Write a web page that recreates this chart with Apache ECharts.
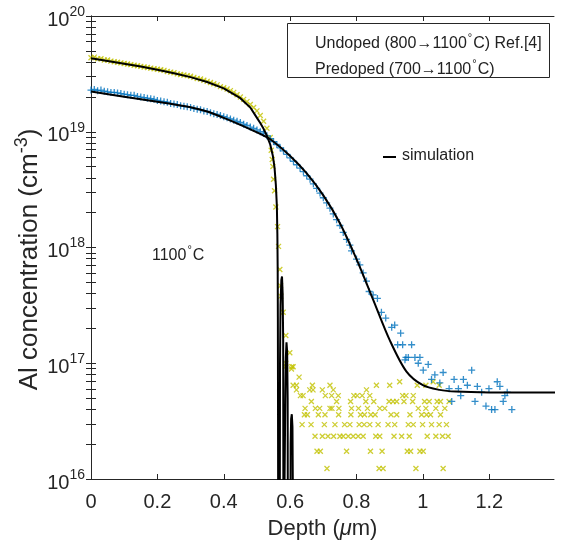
<!DOCTYPE html>
<html><head><meta charset="utf-8">
<script src="https://cdn.jsdelivr.net/npm/echarts@6/dist/echarts.min.js"></script>
<style>html,body{margin:0;padding:0;background:#fff}#c{width:562px;height:542px}</style>
</head><body><div id="c"></div>
<script>
// ---- tick labels ----
const xTickValues = [0, 0.2, 0.4, 0.6, 0.8, 1, 1.2];
const yDecadeExps = [16, 17, 18, 19, 20];

// ---- Undoped (800->1100 C) Ref.[4] data: depth (um), log10 concentration ----
const undopedDepth = [
 0.00,0.01,0.02,0.03,0.04,0.05,0.06,0.07,0.08,0.09,0.10,0.11,0.12,0.13,0.14,0.15,0.16,0.17,0.18,0.19,
 0.20,0.21,0.22,0.23,0.24,0.25,0.26,0.27,0.28,0.29,0.30,0.31,0.32,0.33,0.34,0.35,0.36,0.37,0.38,0.39,
 0.40,0.41,0.42,0.43,0.44,0.45,0.46,0.47,0.48,0.49,0.50,0.51,0.52,0.53,0.54,
 0.543,0.546,0.548,0.550,0.553,0.557,0.562,0.565,0.569,0.571,0.572,0.579,0.587,0.599,0.609,0.587,0.604,0.627,0.586,0.605,
 0.609,0.619,0.667,0.720,0.860,0.900,0.983,1.009,1.049,
 0.930,1.031,
 0.619,0.659,0.669,0.697,0.730,0.830,
 0.631,0.639,0.706,0.725,0.745,0.792,0.802,0.817,0.840,0.939,0.949,0.971,
 0.664,0.740,0.782,0.828,0.852,0.898,0.910,0.921,0.943,0.969,1.005,1.019,1.043,1.053,1.079,
 0.645,0.676,0.689,0.720,0.726,0.747,0.785,0.806,0.833,0.870,0.885,0.986,1.009,1.039,1.066,
 0.643,0.652,0.685,0.705,0.746,0.783,0.812,0.824,0.843,0.856,0.904,0.921,0.961,0.996,1.011,1.023,1.053,
 0.636,0.663,0.703,0.735,0.764,0.780,0.808,0.823,0.840,0.865,0.895,0.915,0.956,0.971,0.999,1.026,1.049,1.071,
 0.675,0.697,0.714,0.731,0.750,0.760,0.775,0.790,0.805,0.820,0.858,0.870,0.913,0.936,0.959,1.013,1.039,1.059,1.076,
 0.681,0.691,0.770,0.842,0.877,0.953,0.963,0.991,1.001,
 0.711,0.868,0.880,0.979,1.061
];
const undopedLogConc = [
 19.64,19.645,19.63,19.63,19.62,19.62,19.61,19.605,19.60,19.595,19.59,19.585,19.58,19.575,19.57,19.565,19.56,19.555,19.55,19.545,
 19.54,19.535,19.53,19.52,19.515,19.51,19.50,19.495,19.49,19.485,19.48,19.47,19.46,19.455,19.445,19.435,19.425,19.415,19.405,19.39,
 19.38,19.37,19.355,19.34,19.32,19.30,19.28,19.26,19.235,19.21,19.18,19.14,19.09,19.03,18.95,
 18.84,18.76,18.70,18.59,18.49,18.35,18.18,18.01,17.81,17.67,17.58,17.44,17.24,17.09,16.97,17.00,16.95,16.88,16.97,16.97,
 16.81,16.81,16.81,16.81,16.81,16.81,16.81,16.81,16.81,
 16.84,16.84,
 16.77,16.77,16.77,16.77,16.77,16.77,
 16.72,16.72,16.72,16.72,16.72,16.72,16.72,16.72,16.72,16.72,16.72,16.72,
 16.67,16.67,16.67,16.67,16.67,16.67,16.67,16.67,16.67,16.67,16.67,16.67,16.67,16.67,16.67,
 16.61,16.61,16.61,16.61,16.61,16.61,16.61,16.61,16.61,16.61,16.61,16.61,16.61,16.61,16.61,
 16.555,16.555,16.555,16.555,16.555,16.555,16.555,16.555,16.555,16.555,16.555,16.555,16.555,16.555,16.555,16.555,16.555,
 16.47,16.47,16.47,16.47,16.47,16.47,16.47,16.47,16.47,16.47,16.47,16.47,16.47,16.47,16.47,16.47,16.47,16.47,
 16.37,16.37,16.37,16.37,16.37,16.37,16.37,16.37,16.37,16.37,16.37,16.37,16.37,16.37,16.37,16.37,16.37,16.37,16.37,
 16.24,16.24,16.24,16.24,16.24,16.24,16.24,16.24,16.24,
 16.09,16.09,16.09,16.09,16.09
];

// ---- Predoped (700->1100 C) data ----
const predopedDepth = [
 0.00,0.01,0.02,0.03,0.04,0.05,0.06,0.07,0.08,0.09,0.10,0.11,0.12,0.13,0.14,0.15,0.16,0.17,0.18,0.19,
 0.20,0.21,0.22,0.23,0.24,0.25,0.26,0.27,0.28,0.29,0.30,0.31,0.32,0.33,0.34,0.35,0.36,0.37,0.38,0.39,
 0.40,0.41,0.42,0.43,0.44,0.45,0.46,0.47,0.48,0.49,0.50,0.51,0.52,0.53,0.54,0.55,0.56,0.57,0.58,0.59,
 0.60,0.61,0.62,0.63,0.64,0.65,0.66,0.67,0.68,0.69,0.70,0.71,0.72,0.73,0.74,0.75,0.76,0.77,0.78,0.785,
 0.80,0.81,0.82,0.83,
 0.838,0.850,0.863,0.875,0.888,0.906,0.915,0.933,0.924,0.939,0.966,0.956,0.949,0.976,0.991,0.946,0.986,1.016,1.001,1.036,
 1.026,1.061,1.051,1.094,1.122,1.147,1.134,1.079,1.107,1.114,1.087,1.164,1.177,1.157,1.199,1.224,1.232,1.254,1.247,1.190,
 1.207,1.217,1.242,1.268
];
const predopedLogConc = [
 19.36,19.365,19.355,19.36,19.35,19.345,19.34,19.34,19.335,19.33,19.325,19.32,19.315,19.315,19.305,19.30,19.295,19.29,19.285,19.28,
 19.27,19.265,19.26,19.255,19.245,19.24,19.235,19.225,19.22,19.215,19.21,19.20,19.195,19.19,19.18,19.175,19.165,19.155,19.15,19.14,
 19.13,19.12,19.11,19.10,19.09,19.08,19.065,19.055,19.04,19.03,19.015,19.00,18.985,18.965,18.94,18.915,18.89,18.86,18.835,18.805,
 18.775,18.745,18.715,18.685,18.655,18.62,18.59,18.55,18.51,18.47,18.43,18.385,18.34,18.29,18.24,18.19,18.13,18.07,18.02,17.97,
 17.90,17.85,17.78,17.71,
 17.62,17.59,17.56,17.44,17.39,17.31,17.33,17.26,17.16,17.16,17.16,17.05,17.05,17.05,17.05,17.03,17.00,16.99,16.94,16.90,
 16.86,16.92,16.83,16.86,16.86,16.94,16.81,16.78,16.78,16.72,16.67,16.80,16.75,16.67,16.78,16.84,16.80,16.75,16.72,16.63,
 16.60,16.60,16.67,16.60
];

// ---- simulation curves ----
const simUndopedDepth = [
 0,0.05,0.1,0.15,0.2,0.25,0.3,0.35,0.4,0.45,0.48,0.5,0.51,0.52,0.53,0.54,0.548,0.553,0.557,0.56,0.5615,0.5625,0.563,0.5635,0.564,
 0.5685,0.5695,0.571,0.5735,0.5755,0.5775,0.579,0.580,
 0.5845,0.5855,0.587,0.589,0.591,0.5925,0.5935,
 0.6005,0.6015,0.603,0.605,0.607,0.608,0.609
];
const simUndopedLogConc = [
 19.635,19.612,19.588,19.563,19.536,19.505,19.472,19.43,19.375,19.29,19.21,19.12,19.075,19.025,18.965,18.89,18.79,18.69,18.54,18.36,18.12,17.8,17.4,16.6,15.5,
 15,17.0,17.5,17.72,17.75,17.6,17.2,15,
 15,16.7,17.05,17.18,17.1,16.7,15,
 15,16.3,16.52,16.56,16.45,16.0,15
];
const simPredopedDepth = [0,0.1,0.2,0.3,0.35,0.4,0.45,0.5,0.54,0.6,0.65,0.7,0.75,0.8,0.85,0.9,0.95,1.0,1.05,1.1,1.2,1.4];
const simPredopedLogConc = [19.347,19.302,19.26,19.212,19.175,19.12,19.06,18.995,18.935,18.79,18.64,18.45,18.21,17.9,17.55,17.2,16.93,16.81,16.77,16.755,16.748,16.747];

// ---- helpers ----
const toPairs = (xs, es) => xs.map((x, i) => [x, Math.pow(10, es[i])]);
const minorTicks = [];
for (let e = 16; e < 20; e++) for (let m = 1; m <= 10; m++) minorTicks.push(m * Math.pow(10, e));

const FONT = '"Liberation Sans", Arial, Helvetica, sans-serif';
const AX = '#262626';
const TXT = '#262626';
const YEL = '#c2c200';
const BLU = '#0072BD';

const chart = echarts.init(document.getElementById('c'), null, {renderer: 'canvas'});

const xCommon = {type: 'value', min: 0, max: 1.395,
  axisLine: {show: true, lineStyle: {color: AX, width: 1}}, splitLine: {show: false}};
const yCommon = {type: 'log', logBase: 10, min: 1e16, max: 1e20,
  axisLine: {show: true, lineStyle: {color: AX, width: 1}}, splitLine: {show: false}, minorSplitLine: {show: false}};

const option = {
  animation: false,
  backgroundColor: '#fff',
  grid: {left: 91, right: 8, top: 16, bottom: 63, containLabel: false, outerBoundsMode: 'none'},
  xAxis: [
    Object.assign({}, xCommon, {position: 'bottom',
      axisTick: {show: true, inside: true, length: 5, customValues: xTickValues, lineStyle: {color: AX}},
      axisLabel: {show: true, customValues: xTickValues, margin: 13, color: TXT, fontFamily: FONT, fontSize: 20,
        formatter: v => String(Math.round(v * 10) / 10)},
      name: 'Depth ({i|μ}m)', nameLocation: 'middle', nameGap: 39, nameMoveOverlap: false,
      nameTextStyle: {color: TXT, fontFamily: FONT, fontSize: 22,
        rich: {i: {fontStyle: 'italic', fontFamily: FONT, fontSize: 22, color: TXT}}}}),
    Object.assign({}, xCommon, {position: 'top',
      axisTick: {show: true, inside: true, length: 5, customValues: xTickValues, lineStyle: {color: AX}},
      axisLabel: {show: false}})
  ],
  yAxis: [
    Object.assign({}, yCommon, {position: 'left',
      axisTick: {show: true, inside: true, length: 5, customValues: minorTicks, lineStyle: {color: AX}},
      axisLabel: {show: true, margin: 6, color: TXT, fontFamily: FONT,
        formatter: v => '{b|10}{s|' + Math.round(Math.log10(v)) + '}',
        rich: {
          b: {fontFamily: FONT, fontSize: 20, color: TXT, lineHeight: 20, padding: [8, 0, 0, 0]},
          s: {fontFamily: FONT, fontSize: 14, color: TXT, lineHeight: 14, padding: [0, 0, 8, 0]}
        }},
      name: 'Al concentration (cm{s|-3})', nameLocation: 'middle', nameGap: 44, nameRotate: 90, nameMoveOverlap: false,
      nameTextStyle: {color: TXT, fontFamily: FONT, fontSize: 26, lineHeight: 34, padding: [0, 24, 0, 0],
        rich: {s: {fontFamily: FONT, fontSize: 18, color: TXT, lineHeight: 34, verticalAlign: 'top'}}}}),
    Object.assign({}, yCommon, {position: 'right',
      axisTick: {show: true, inside: true, length: 5, customValues: minorTicks, lineStyle: {color: AX}},
      axisLabel: {show: false}})
  ],
  series: [
    {type: 'scatter', name: 'Undoped', xAxisIndex: 0, yAxisIndex: 0,
      data: toPairs(undopedDepth, undopedLogConc),
      symbol: 'path://M0,0L10,10M10,0L0,10', symbolSize: 5,
      itemStyle: {color: 'rgba(0,0,0,0)', borderColor: YEL, borderWidth: 1.3}, z: 2},
    {type: 'scatter', name: 'Predoped', xAxisIndex: 0, yAxisIndex: 0,
      data: toPairs(predopedDepth, predopedLogConc),
      symbol: 'path://M5,0L5,10M0,5L10,5', symbolSize: 7,
      itemStyle: {color: 'rgba(0,0,0,0)', borderColor: BLU, borderWidth: 1.3}, z: 2},
    {type: 'line', name: 'sim undoped', xAxisIndex: 0, yAxisIndex: 0,
      data: toPairs(simUndopedDepth, simUndopedLogConc), showSymbol: false, symbol: 'none',
      lineStyle: {color: '#000', width: 2}, clip: true, z: 3},
    {type: 'line', name: 'sim predoped', xAxisIndex: 0, yAxisIndex: 0,
      data: toPairs(simPredopedDepth, simPredopedLogConc), showSymbol: false, symbol: 'none', smooth: 0.3,
      lineStyle: {color: '#000', width: 2}, clip: true, z: 3}
  ],
  graphic: [
    {type: 'rect', shape: {x: 287.5, y: 23.5, width: 262, height: 54}, style: {fill: '#fff', stroke: AX, lineWidth: 1}, z: 10},
    {type: 'group', left: 299, top: 39, z: 11, children: [
      {type: 'line', shape: {x1: 0, y1: 0, x2: 5, y2: 5}, style: {stroke: YEL, lineWidth: 1.3}},
      {type: 'line', shape: {x1: 5, y1: 0, x2: 0, y2: 5}, style: {stroke: YEL, lineWidth: 1.3}}
    ]},
    {type: 'group', left: 298, top: 62, z: 11, children: [
      {type: 'line', shape: {x1: 3.5, y1: 0, x2: 3.5, y2: 7}, style: {stroke: BLU, lineWidth: 1.3}},
      {type: 'line', shape: {x1: 0, y1: 3.5, x2: 7, y2: 3.5}, style: {stroke: BLU, lineWidth: 1.3}}
    ]},
    {type: 'text', left: 315, top: 32, z: 11, style: {
      text: '{n|Undoped (800→1100}{d|°}{n|C) Ref.[4]}', fill: '#222',
      rich: {n: {fontFamily: FONT, fontSize: 16, lineHeight: 20, verticalAlign: 'bottom', fill: '#222'},
             d: {fontFamily: FONT, fontSize: 11, lineHeight: 11, verticalAlign: 'top', fill: '#222', padding: [0, 1, 0, 1]}}}},
    {type: 'text', left: 315, top: 58, z: 11, style: {
      text: '{n|Predoped (700→1100}{d|°}{n|C)}', fill: '#222',
      rich: {n: {fontFamily: FONT, fontSize: 16, lineHeight: 20, verticalAlign: 'bottom', fill: '#222'},
             d: {fontFamily: FONT, fontSize: 11, lineHeight: 11, verticalAlign: 'top', fill: '#222', padding: [0, 1, 0, 1]}}}},
    {type: 'line', shape: {x1: 383, y1: 157, x2: 396, y2: 157}, style: {stroke: '#000', lineWidth: 2}, z: 11},
    {type: 'text', left: 402, top: 148, z: 11, style: {text: 'simulation', fill: '#222', font: '16px ' + FONT}},
    {type: 'text', left: 152, top: 244, z: 11, style: {
      text: '{n|1100}{d|°}{n|C}', fill: '#222',
      rich: {n: {fontFamily: FONT, fontSize: 16, lineHeight: 20, verticalAlign: 'bottom', fill: '#222'},
             d: {fontFamily: FONT, fontSize: 11, lineHeight: 11, verticalAlign: 'top', fill: '#222', padding: [0, 1, 0, 1]}}}}
  ]
};
chart.setOption(option);
</script>
</body></html>
